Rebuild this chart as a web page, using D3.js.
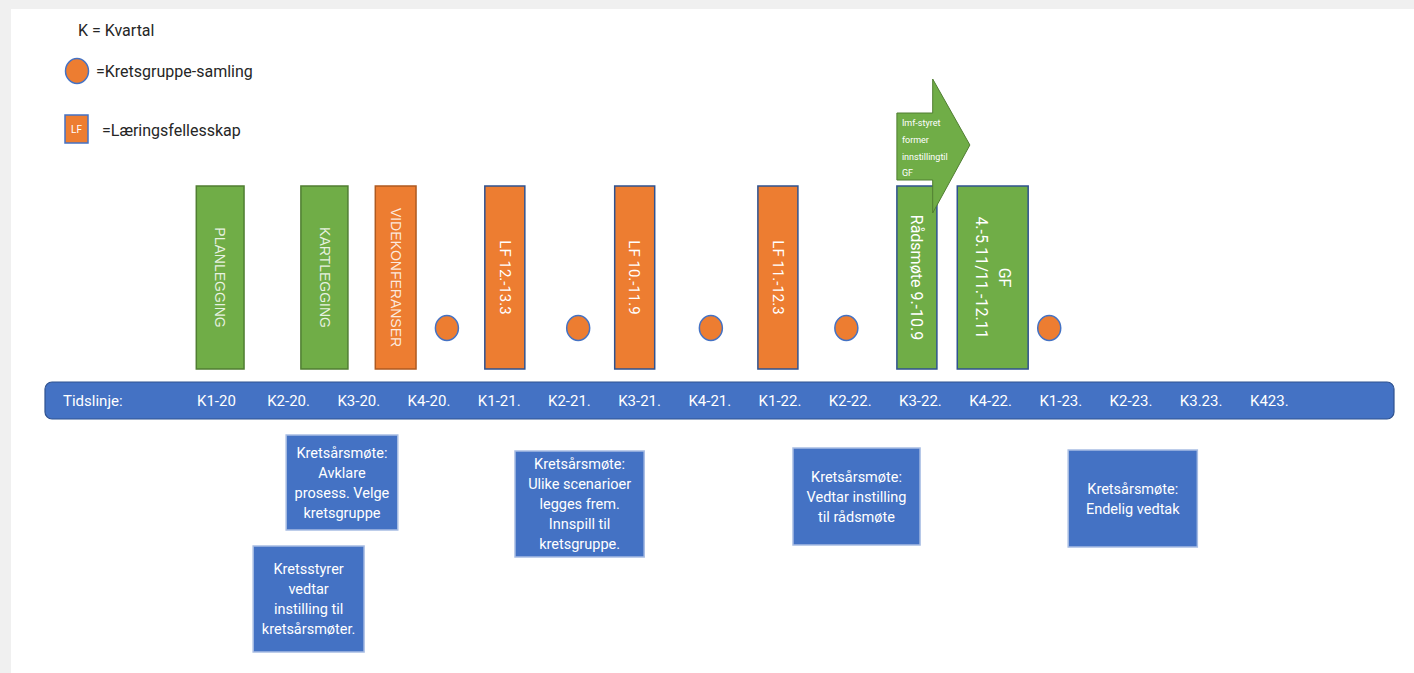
<!DOCTYPE html>
<html>
<head>
    <meta charset="UTF-8">
    <title>Tidslinje</title>
    <style>
        body {
            margin: 0;
            padding: 0;
            background-color: #f0f0f0;
        }
        svg {
            display: block;
        }
        text {
            font-family: "Liberation Sans Narrow", "Roboto", sans-serif;
        }
    </style>
    <script src="https://d3js.org/d3.v7.min.js"></script>
</head>
<body>
    <div id="chart"></div>
    <script>
        // kvartal-etiketter på tidslinja
        var quarterLabels = ["K1-20", "K2-20.", "K3-20.", "K4-20.", "K1-21.", "K2-21.", "K3-21.", "K4-21.",
                             "K1-22.", "K2-22.", "K3-22.", "K4-22.", "K1-23.", "K2-23.", "K3.23.", "K423."];

        // søyler over tidslinja (fra/til i kvartal-enheter)
        var barLabels = ["PLANLEGGING", "KARTLEGGING", "VIDEKONFERANSER", "LF 12.-13.3", "LF 10.-11.9",
                         "LF 11.-12.3", "Rådsmøte 9.-10.9", "GF|4.-5.11/11.-12.11"];
        var barKinds = ["plan", "plan", "konf", "lf", "lf", "lf", "mote", "mote"];
        var barFrom = [-0.01, 1.48, 2.54, 4.10, 5.95, 7.99, 9.97, 10.83];
        var barTo = [0.67, 2.15, 3.12, 4.67, 6.52, 8.56, 10.54, 11.84];

        // kretsgruppe-samlinger
        var samlinger = [3.56, 5.43, 7.32, 9.25, 12.14];

        // kretsårsmøter og styrevedtak under tidslinja
        var meetingTexts = [
            ["Kretsårsmøte:", "Avklare", "prosess. Velge", "kretsgruppe"],
            ["Kretsstyrer", "vedtar", "instilling til", "kretsårsmøter."],
            ["Kretsårsmøte:", "Ulike scenarioer", "legges frem.", "Innspill til", "kretsgruppe."],
            ["Kretsårsmøte:", "Vedtar instilling", "til rådsmøte"],
            ["Kretsårsmøte:", "Endelig vedtak"]
        ];
        var meetingFrom = [1.27, 0.80, 4.53, 8.49, 12.41];
        var meetingTo = [2.86, 2.38, 6.37, 10.30, 14.25];

        // pil: imf-styret
        var arrowText = ["Imf-styret", "former", "innstillingtil", "GF"];
        var arrowFrom = 9.97, arrowNeck = 10.48, arrowTip = 11.01;

        // layout (piksler)
        var W = 1414, H = 673;
        var boxTop = [435, 546, 451, 448, 450],
            boxBottom = [530, 652, 557, 545, 547];

        var colors = {
            green: "#70ad47", greenDark: "#507e32",
            orange: "#ed7d31", orangeDark: "#ae5a21",
            blue: "#4472c4", blueDark: "#2f528f"
        };
        var barStyle = {
            plan: { fill: colors.green, stroke: colors.greenDark, size: 14, light: true },
            konf: { fill: colors.orange, stroke: colors.orangeDark, size: 14, light: true },
            lf:   { fill: colors.orange, stroke: colors.blueDark, size: 15, light: false },
            mote: { fill: colors.green, stroke: colors.blueDark, size: 16, light: false }
        };

        var x = d3.scaleLinear()
            .domain([0, quarterLabels.length - 1])
            .range([197, 1250]);

        var svg = d3.select("#chart").append("svg")
            .attr("width", W)
            .attr("height", H);

        // hvit bakgrunn
        svg.append("rect")
            .attr("x", 11).attr("y", 9)
            .attr("width", W - 11).attr("height", H - 9)
            .attr("fill", "white");

        // tegnforklaring
        var legend = svg.append("g").attr("fill", "#262626").style("font-size", "16px");
        legend.append("text").attr("x", 78).attr("y", 30).attr("dy", "0.35em").text("K = Kvartal");
        legend.append("ellipse")
            .attr("cx", 77).attr("cy", 71).attr("rx", 11.5).attr("ry", 12.5)
            .attr("fill", colors.orange).attr("stroke", colors.blue).attr("stroke-width", 1.5);
        legend.append("text").attr("x", 96).attr("y", 71).attr("dy", "0.35em").text("=Kretsgruppe-samling");
        legend.append("rect")
            .attr("x", 65).attr("y", 115).attr("width", 23).attr("height", 28)
            .attr("fill", colors.orange).attr("stroke", colors.blue).attr("stroke-width", 1.5);
        legend.append("text").attr("x", 76.5).attr("y", 129).attr("dy", "0.35em")
            .attr("text-anchor", "middle").attr("fill", "white").style("font-size", "10px").text("LF");
        legend.append("text").attr("x", 102).attr("y", 130).attr("dy", "0.35em").text("=Læringsfellesskap");

        // søyler
        var barTop = 186, barBottom = 369;
        var bars = svg.append("g").selectAll("g")
            .data(barLabels)
            .enter().append("g");

        bars.append("rect")
            .attr("x", function (d, i) { return x(barFrom[i]); })
            .attr("y", barTop)
            .attr("width", function (d, i) { return x(barTo[i]) - x(barFrom[i]); })
            .attr("height", barBottom - barTop)
            .attr("fill", function (d, i) { return barStyle[barKinds[i]].fill; })
            .attr("stroke", function (d, i) { return barStyle[barKinds[i]].stroke; })
            .attr("stroke-width", 1.5);

        bars.each(function (d, i) {
            var st = barStyle[barKinds[i]];
            var cx = (x(barFrom[i]) + x(barTo[i])) / 2,
                cy = (barTop + barBottom) / 2;
            var lines = d.split("|");
            var t = d3.select(this).append("text")
                .attr("transform", "translate(" + cx + "," + cy + ") rotate(90)")
                .attr("text-anchor", "middle")
                .attr("fill", st.light ? "rgba(255,255,255,0.85)" : "white")
                .style("font-size", st.size + "px")
                .style("font-family", st.light ? "'Liberation Sans', Arial, sans-serif" : null);
            lines.forEach(function (line, k) {
                t.append("tspan")
                    .attr("x", 0)
                    .attr("y", (k - (lines.length - 1) / 2) * 23)
                    .attr("dy", "0.35em")
                    .text(line);
            });
        });

        // pil
        var arrowTopBody = 113, arrowBottomBody = 180, arrowHeadTop = 79, arrowHeadBottom = 213;
        var arrowPts = [
            [x(arrowFrom), arrowTopBody], [x(arrowNeck), arrowTopBody], [x(arrowNeck), arrowHeadTop],
            [x(arrowTip), (arrowHeadTop + arrowHeadBottom) / 2 - 1], [x(arrowNeck), arrowHeadBottom],
            [x(arrowNeck), arrowBottomBody], [x(arrowFrom), arrowBottomBody]
        ];
        svg.append("path")
            .attr("d", d3.line()(arrowPts) + "Z")
            .attr("fill", colors.green)
            .attr("stroke", colors.greenDark)
            .attr("stroke-width", 1);
        svg.append("g").selectAll("text")
            .data(arrowText)
            .enter().append("text")
            .attr("x", x(arrowFrom) + 5)
            .attr("y", function (d, i) { return 123 + i * 16.7; })
            .attr("dy", "0.35em")
            .attr("fill", "white")
            .style("font-size", "9px")
            .text(function (d) { return d; });

        // samlinger
        svg.append("g").selectAll("ellipse")
            .data(samlinger)
            .enter().append("ellipse")
            .attr("cx", function (d) { return x(d); })
            .attr("cy", 328)
            .attr("rx", 11.5).attr("ry", 12.5)
            .attr("fill", colors.orange)
            .attr("stroke", colors.blue)
            .attr("stroke-width", 1.5);

        // tidslinje
        svg.append("rect")
            .attr("x", 45).attr("y", 382)
            .attr("width", 1394 - 45).attr("height", 37)
            .attr("rx", 7)
            .attr("fill", colors.blue)
            .attr("stroke", colors.blueDark)
            .attr("stroke-width", 1.2);
        svg.append("text")
            .attr("x", 63).attr("y", 401).attr("dy", "0.35em")
            .attr("fill", "white").style("font-size", "15px")
            .text("Tidslinje:");
        svg.append("g").selectAll("text")
            .data(quarterLabels)
            .enter().append("text")
            .attr("x", function (d, i) { return x(i); })
            .attr("y", 401).attr("dy", "0.35em")
            .attr("fill", "white").style("font-size", "15px")
            .text(function (d) { return d; });

        // møtebokser
        var boxes = svg.append("g").selectAll("g")
            .data(meetingTexts)
            .enter().append("g");

        boxes.append("rect")
            .attr("x", function (d, i) { return x(meetingFrom[i]); })
            .attr("y", function (d, i) { return boxTop[i]; })
            .attr("width", function (d, i) { return x(meetingTo[i]) - x(meetingFrom[i]); })
            .attr("height", function (d, i) { return boxBottom[i] - boxTop[i]; })
            .attr("fill", colors.blue)
            .attr("stroke", "#a8bde3")
            .attr("stroke-width", 1.5);

        boxes.each(function (d, i) {
            var cx = (x(meetingFrom[i]) + x(meetingTo[i])) / 2,
                cy = (boxTop[i] + boxBottom[i]) / 2;
            d3.select(this).selectAll("text")
                .data(d)
                .enter().append("text")
                .attr("x", cx)
                .attr("y", function (line, k) { return cy + (k - (d.length - 1) / 2) * 20; })
                .attr("dy", "0.35em")
                .attr("text-anchor", "middle")
                .attr("fill", "white")
                .style("font-size", "14.5px")
                .text(function (line) { return line; });
        });
    </script>
</body>
</html>
